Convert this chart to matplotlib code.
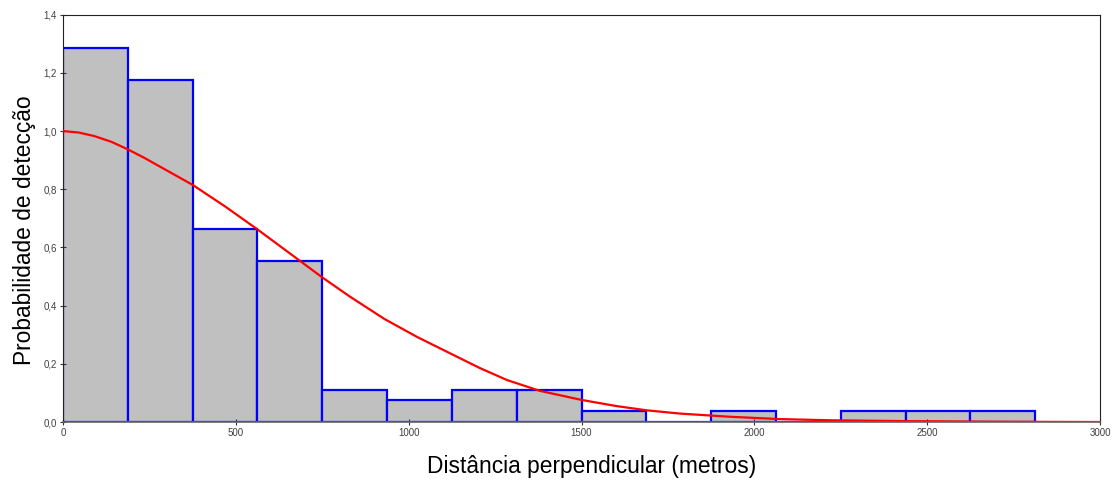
import matplotlib
matplotlib.use("Agg")
import matplotlib.pyplot as plt
from matplotlib.ticker import FuncFormatter

# histogram classes (perpendicular distance, metres)
bin_left = [0, 187.5, 375, 562.5, 750, 937.5, 1125, 1312.5, 1500,
            1687.5, 1875, 2062.5, 2250, 2437.5, 2625]
bin_width = 187.5
bar_height = [1.287, 1.177, 0.662, 0.552, 0.110, 0.074, 0.110, 0.110, 0.037,
              0.0, 0.037, 0.0, 0.037, 0.037, 0.037]

# fitted detection function
curve_x = [0, 45, 90, 140, 187.5, 235, 280, 375, 470, 562.5, 650, 750, 830,
           930, 1025, 1120, 1205, 1285, 1380, 1500, 1600, 1690, 1785, 1930,
           2075, 2220, 2440, 2700, 3000]
curve_y = [1.0, 0.995, 0.983, 0.963, 0.937, 0.908, 0.878, 0.815, 0.740,
           0.662, 0.585, 0.497, 0.431, 0.354, 0.292, 0.236, 0.186, 0.144,
           0.107, 0.076, 0.055, 0.040, 0.029, 0.018, 0.010, 0.006, 0.003,
           0.001, 0.0]

x_ticks = [0, 500, 1000, 1500, 2000, 2500, 3000]
y_ticks = [0.0, 0.2, 0.4, 0.6, 0.8, 1.0, 1.2, 1.4]

plt.rcParams['font.family'] = ['Liberation Sans', 'DejaVu Sans']

fig = plt.figure(figsize=(11.14, 4.8), dpi=100)
ax = fig.add_axes([0.0566, 0.1208, 0.9308, 0.8486])

ax.bar(bin_left, bar_height, width=bin_width, align='edge',
       color='#c0c0c0', edgecolor='#0000ff', linewidth=1.6, zorder=1)
ax.plot(curve_x, curve_y, color='#ff0000', linewidth=1.6, zorder=3)

ax.set_xlim(0, 3000)
ax.set_ylim(0, 1.4)
ax.set_xticks(x_ticks)
ax.set_yticks(y_ticks)
ax.yaxis.set_major_formatter(FuncFormatter(lambda v, p: f"{v:.1f}".replace('.', ',')))
ax.tick_params(direction='inout', length=5, width=0.8, labelsize=7,
               labelcolor='#404040', color='#333333', pad=2)

for side in ['top', 'right', 'left']:
    ax.spines[side].set_color('#222222')
    ax.spines[side].set_linewidth(0.8)
ax.spines['bottom'].set_color('#666666')
ax.spines['bottom'].set_linewidth(1.2)
ax.spines['bottom'].set_zorder(4)

ax.set_xlabel('Distância perpendicular (metros)', fontsize=16.4, labelpad=12)
ax.set_ylabel('Probabilidade de detecção', fontsize=16.4, labelpad=5)
ax.xaxis.label.set_x(0.510)
ax.yaxis.label.set_y(0.472)

fig.savefig('out.png', dpi=100)
